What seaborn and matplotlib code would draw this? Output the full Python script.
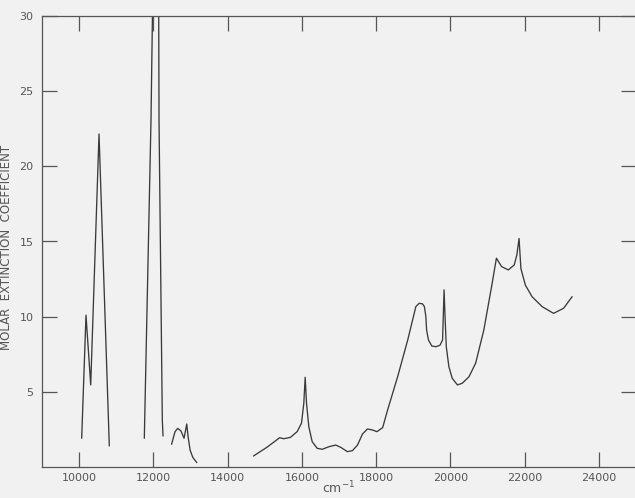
import matplotlib
matplotlib.use("Agg")
import matplotlib.pyplot as plt
import seaborn as sns
import pandas as pd

# wavenumber (cm-1) / molar extinction coefficient
wn_a = [10069, 10185, 10312, 10536, 10813]
eps_a = [1.91, 10.1, 5.46, 22.15, 1.4]

wn_b = [11756, 11936, 11975, 12060, 12144, 12152, 12241, 12260]
eps_b = [1.91, 23.1, 30.0, 45.0, 30.0, 23.1, 3.1, 2.06]

wn_c = [12490, 12583, 12656, 12745, 12826, 12899, 12935, 12989, 13062, 13170]
eps_c = [1.51, 2.35, 2.57, 2.39, 1.91, 2.86, 2.02, 1.13, 0.64, 0.29]

wn_d = [14696, 15057, 15285, 15401, 15510, 15691, 15872, 15989, 16052, 16089,
        16125, 16187, 16278, 16414, 16549, 16730, 16911, 17046, 17227, 17363,
        17498, 17634, 17767, 17905, 18022, 18176, 18309, 18580, 18851, 18980,
        19070, 19160, 19250, 19300, 19340, 19360, 19410, 19500, 19610, 19720,
        19790, 19830, 19860, 19890, 19960, 20050, 20190, 20320, 20500, 20680,
        20900, 21110, 21240, 21380, 21560, 21720, 21790, 21850, 21900, 22020,
        22200, 22470, 22780, 23050, 23280]
eps_d = [0.73, 1.31, 1.73, 1.95, 1.88, 1.97, 2.35, 2.91, 4.24, 5.97,
         4.24, 2.68, 1.68, 1.24, 1.18, 1.35, 1.46, 1.31, 1.02, 1.09,
         1.46, 2.20, 2.53, 2.46, 2.35, 2.62, 3.79, 6.01, 8.45, 9.75,
         10.67, 10.89, 10.85, 10.67, 10.0, 9.1, 8.45, 8.05, 8.0, 8.1,
         8.45, 11.78, 9.78, 8.0, 6.67, 5.9, 5.46, 5.57, 6.0, 6.9,
         9.1, 12.0, 13.89, 13.33, 13.11, 13.44, 14.1, 15.2, 13.2, 12.1,
         11.33, 10.67, 10.22, 10.56, 11.33]

x_ticks = [10000, 12000, 14000, 16000, 18000, 20000, 22000, 24000]
y_ticks = [5, 10, 15, 20, 25, 30]

sns.set_style("ticks")
bg = "#f1f1f1"
ink = "#555555"
plt.rcParams["font.family"] = ["Liberation Sans Narrow", "DejaVu Sans"]

fig = plt.figure(figsize=(6.35, 4.98), dpi=100, facecolor=bg)
ax = fig.add_axes([42 / 635, 31 / 498, 594 / 635, 451 / 498])
ax.set_facecolor(bg)

for wn, eps in [(wn_a, eps_a), (wn_b, eps_b), (wn_c, eps_c), (wn_d, eps_d)]:
    df = pd.DataFrame({"wn": wn, "eps": eps})
    sns.lineplot(data=df, x="wn", y="eps", ax=ax, sort=False, estimator=None,
                 color="#3a3a3a", linewidth=0.95)

ax.set_xlim(9000, 25000)
ax.set_ylim(0, 30)
ax.set_xticks(x_ticks)
ax.set_xticklabels([str(t) for t in x_ticks])
ax.set_yticks(y_ticks)
ax.set_yticklabels([str(t) for t in y_ticks])

ax.tick_params(direction="in", length=10.5, width=0.9, color=ink,
               labelcolor=ink, labelsize=8, top=True, right=True)
ax.tick_params(axis="y", pad=6)
ax.tick_params(axis="x", pad=4)
for s in ax.spines.values():
    s.set_color(ink)
    s.set_linewidth(0.9)

ax.set_xlabel("cm$^{-1}$", color=ink, fontsize=9)
ax.xaxis.set_label_coords(0.5, -0.028)
ax.set_ylabel("MOLAR  EXTINCTION  COEFFICIENT", color=ink, fontsize=8.5,
              family=["DejaVu Sans"])
ax.yaxis.set_label_coords(-0.049, 0.486)

fig.savefig("out.png", dpi=100, facecolor=bg)
